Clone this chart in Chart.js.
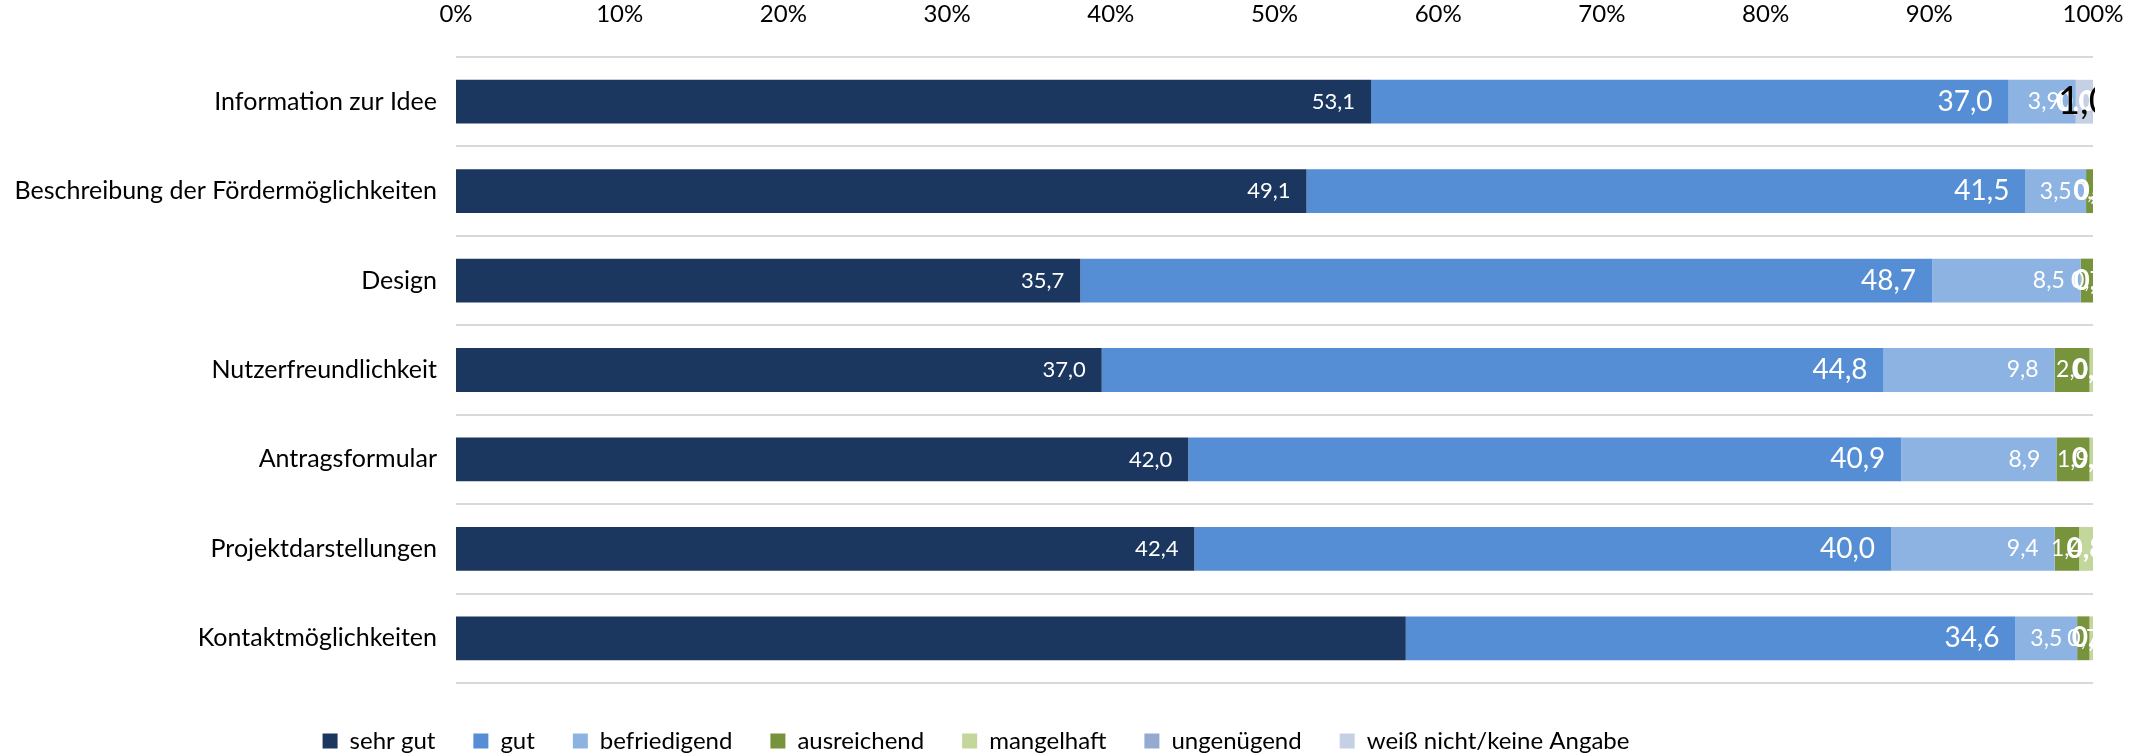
<!DOCTYPE html>
<html>
<head>
<meta charset="utf-8">
<script src="https://cdn.jsdelivr.net/npm/chart.js@4.4.1/dist/chart.umd.min.js"></script>
<style>
  html, body { margin: 0; padding: 0; background: #fff; }
  #wrap { width: 2150px; height: 755px; }
</style>
</head>
<body>
<div id="wrap"><canvas id="chart" width="2150" height="755"></canvas></div>
<script>
const categories = [
  'Information zur Idee',
  'Beschreibung der Fördermöglichkeiten',
  'Design',
  'Nutzerfreundlichkeit',
  'Antragsformular',
  'Projektdarstellungen',
  'Kontaktmöglichkeiten'
];
const seriesNames = ['sehr gut', 'gut', 'befriedigend', 'ausreichend', 'mangelhaft', 'ungenügend', 'weiß nicht/keine Angabe'];

// answers in percent, one value per category
const sehrGut      = [53.1, 49.1, 35.7, 37.0, 42.0, 42.4, 53.9];
const gut          = [37.0, 41.5, 48.7, 44.8, 40.9, 40.0, 34.6];
const befriedigend = [3.9, 3.5, 8.5, 9.8, 8.9, 9.4, 3.5];
const ausreichend  = [0.0, 0.4, 0.7, 2.0, 1.9, 1.4, 0.7];
const mangelhaft   = [0.0, 0.0, 0.0, 0.2, 0.2, 0.8, 0.2];
const ungenuegend  = [0.0, 0.0, 0.0, 0.0, 0.0, 0.0, 0.0];
const weissNicht   = [1.0, 0.0, 0.0, 0.0, 0.0, 0.0, 0.0];

const xTicks = [0, 10, 20, 30, 40, 50, 60, 70, 80, 90, 100];
// [series, category] pairs without a value label
const hiddenLabels = [[0, 6]];

const seriesValues = [sehrGut, gut, befriedigend, ausreichend, mangelhaft, ungenuegend, weissNicht];
const colors = ['#1b375f', '#558ed5', '#8db3e2', '#77933c', '#c3d69b', '#95a9d1', '#c6d0e5'];

// label look per series (null = no labels)
const labelStyles = [
  { size: 22, weight: 'normal', color: '#fff', showZero: true },
  { size: 28, weight: 'normal', color: '#fff', showZero: true },
  { size: 23, weight: 'normal', color: '#fff', showZero: true },
  { size: 23, weight: 'normal', color: '#fff', showZero: true },
  { size: 28, weight: 'bold', color: '#fff', showZero: true },
  null,
  { size: 38, weight: 'normal', color: '#000', showZero: false }
];

const FONT = 'Lato, "Open Sans", sans-serif';

// 100% stacked: every row is scaled to its own total
const rowTotals = categories.map((_, j) => seriesValues.reduce((s, arr) => s + arr[j], 0));

const datasets = seriesNames.map((name, i) => ({
  label: name,
  raw: seriesValues[i],
  data: seriesValues[i].map((v, j) => v / rowTotals[j] * 100),
  backgroundColor: colors[i],
  borderWidth: 0,
  barPercentage: 0.5,
  categoryPercentage: 0.98
}));

const valueLabels = {
  id: 'valueLabels',
  afterDatasetsDraw(chart) {
    const { ctx, chartArea } = chart;
    ctx.save();
    ctx.beginPath();
    ctx.rect(chartArea.left, chartArea.top, chartArea.right - chartArea.left + 2, chartArea.bottom - chartArea.top);
    ctx.clip();
    ctx.textBaseline = 'middle';
    chart.data.datasets.forEach((ds, i) => {
      const style = labelStyles[i];
      if (!style) return;
      chart.getDatasetMeta(i).data.forEach((bar, j) => {
        const v = ds.raw[j];
        if (v === 0 && !style.showZero) return;
        if (hiddenLabels.some(h => h[0] === i && h[1] === j)) return;
        const text = v.toFixed(1).replace('.', ',');
        ctx.font = `${style.weight} ${style.size}px ${FONT}`;
        const w = ctx.measureText(text).width;
        const seg = bar.x - bar.base;
        ctx.fillStyle = style.color;
        if (w + 32 <= seg) {
          ctx.textAlign = 'right';
          ctx.fillText(text, bar.x - 16, bar.y);
        } else {
          ctx.textAlign = 'center';
          ctx.fillText(text, (bar.x + bar.base) / 2, bar.y);
        }
      });
    });
    ctx.restore();
  }
};

// move the legend to where the original sits
const legendPlace = {
  id: 'legendPlace',
  afterLayout(chart) {
    const lg = chart.legend;
    const dx = 976 - (lg.left + lg.right) / 2;
    lg.left += dx;
    lg.right += dx;
    lg.top += 8;
    lg.bottom += 8;
  }
};

new Chart(document.getElementById('chart'), {
  type: 'bar',
  data: { labels: categories, datasets },
  options: {
    indexAxis: 'y',
    responsive: false,
    devicePixelRatio: 1,
    animation: false,
    layout: { padding: { left: 0, right: 57, top: 0, bottom: 0 } },
    scales: {
      x: {
        position: 'top',
        stacked: true,
        min: 0,
        max: 100,
        afterBuildTicks: (axis) => { axis.ticks = xTicks.map(v => ({ value: v })); },
        afterFit: (axis) => { axis.height = 57; },
        ticks: {
          callback: (v) => v + '%',
          color: '#000',
          padding: 20,
          font: { family: FONT, size: 24 }
        },
        grid: { display: false },
        border: { display: false }
      },
      y: {
        stacked: true,
        afterFit: (axis) => { axis.width = 456; },
        ticks: {
          color: '#000',
          padding: 19,
          font: { family: FONT, size: 25 }
        },
        grid: { color: '#d9d9d9', lineWidth: 2, drawTicks: false, offset: true },
        border: { display: false }
      }
    },
    plugins: {
      legend: {
        position: 'bottom',
        maxHeight: 72,
        labels: {
          boxWidth: 15,
          boxHeight: 15,
          padding: 38,
          color: '#000',
          font: { family: FONT, size: 24 }
        }
      },
      tooltip: { enabled: false }
    }
  },
  plugins: [valueLabels, legendPlace]
});
</script>
</body>
</html>
